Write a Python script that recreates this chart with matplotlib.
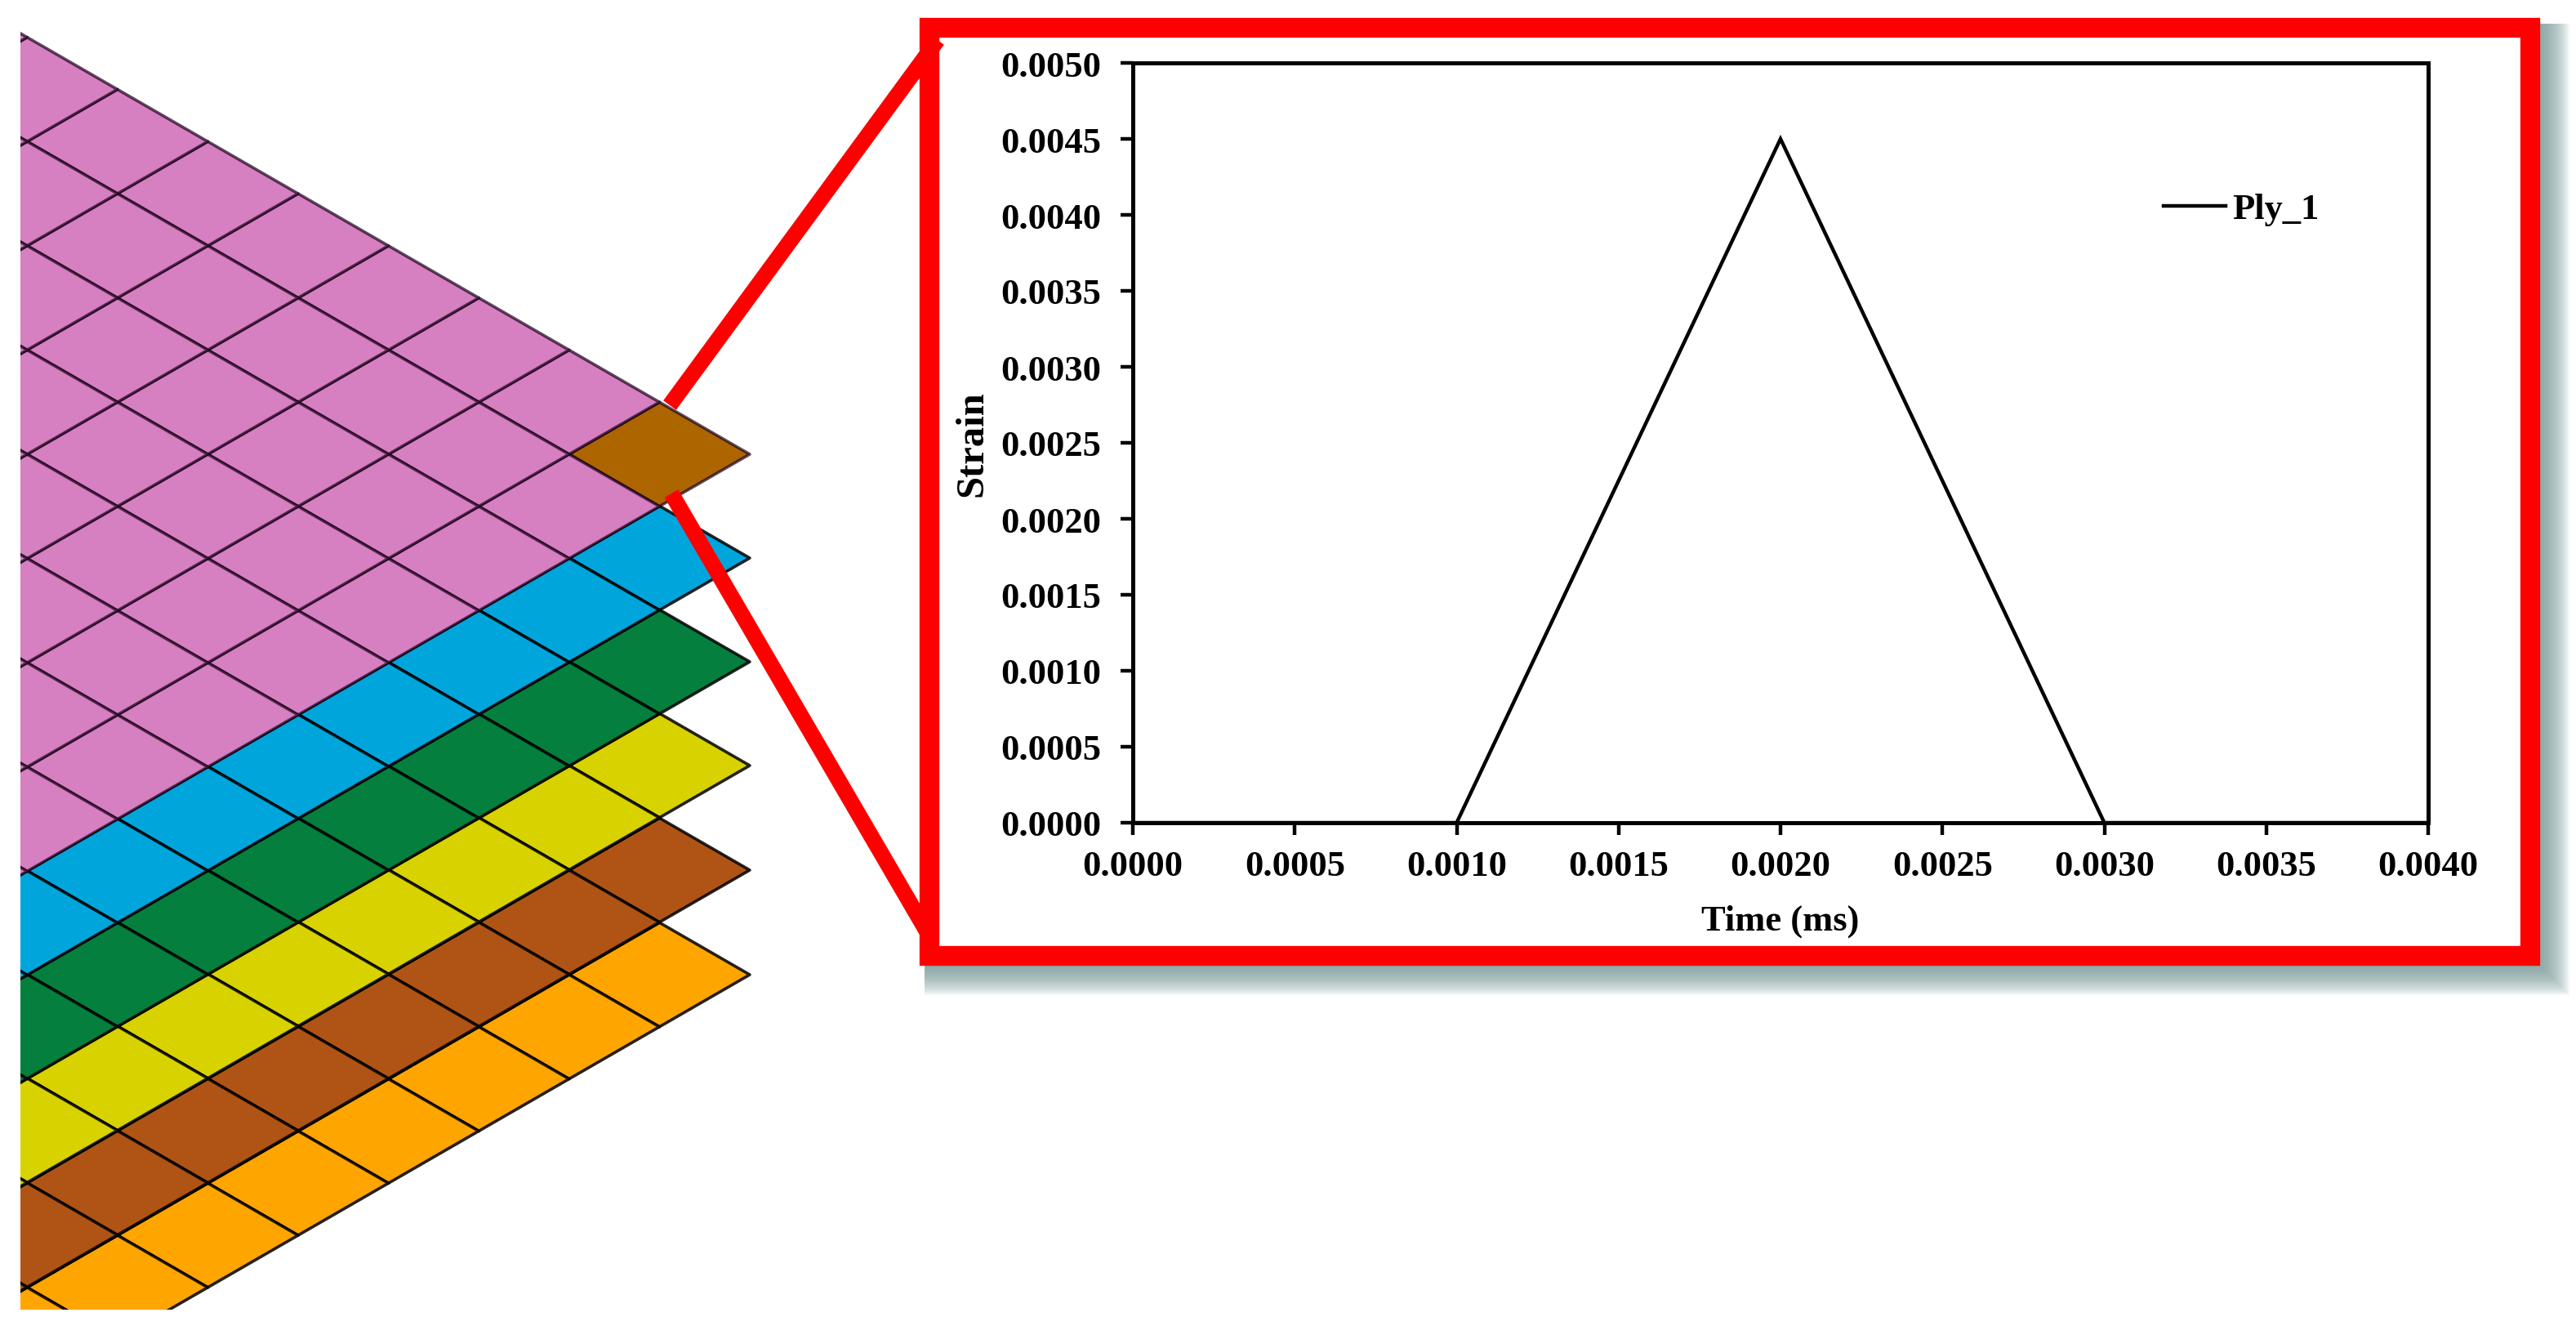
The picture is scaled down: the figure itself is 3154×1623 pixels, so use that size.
import matplotlib
matplotlib.use('Agg')

import matplotlib.pyplot as plt

from matplotlib.collections import PolyCollection
from matplotlib.patches import Rectangle


plt.rcParams['font.family'] = ['Liberation Serif', 'DejaVu Serif']
plt.rcParams['font.weight'] = 'bold'


# Data
#----------------------------------------------------------------------------------------------------
time_ms = [0.0000, 0.0010, 0.0020, 0.0030, 0.0040]
strain = [0.0000, 0.0000, 0.0045, 0.0000, 0.0000]

x_ticks = [0.0000, 0.0005, 0.0010, 0.0015, 0.0020, 0.0025, 0.0030, 0.0035, 0.0040]
y_ticks = [0.0000, 0.0005, 0.0010, 0.0015, 0.0020, 0.0025, 0.0030, 0.0035, 0.0040, 0.0045, 0.0050]

# plies from the top one down, right hand tip of each one in picture pixels
ply_colors = ['#D67FC1', '#00A5DC', '#047F3D', '#D8D200', '#AF5415', '#FFA500']
ply_tip_y = [557, 684, 811, 938, 1066, 1194]
selected_color = '#AD6500'

W, H = 3154, 1624
FONT = 32


#====================================================================================================
def ply_cells(tip_x, tip_y, dx=110.6, dy=63.8, n=11):

    cells = []

    for i in range(n):
        for j in range(n):
            right = (tip_x - dx*(i + j), tip_y + dy*(j - i))
            cells.append([right,
                          (right[0] - dx, right[1] - dy),
                          (right[0] - 2*dx, right[1]),
                          (right[0] - dx, right[1] + dy)])

    return cells


fig = plt.figure(figsize=(W/100, H/100), dpi=100, facecolor='white')


# Mesh and red frame, in picture pixels
#----------------------------------------------------------------------------------------------------
bg = fig.add_axes([0, 0, 1, 1])
bg.set_xlim(0, W)
bg.set_ylim(H, 0)
bg.axis('off')

clip = Rectangle((25, 0), W, 1604, transform=bg.transData)

for k in range(len(ply_colors) - 1, -1, -1):

    cells = ply_cells(918, ply_tip_y[k])
    colors = [ply_colors[k]]*len(cells)
    edge = (0.1, 0, 0.1, 0.7) if k == 0 else (0, 0, 0, 0.85)

    if k == 0:
        colors[0] = selected_color

    mesh = PolyCollection(cells, facecolors=colors, edgecolors=[edge], linewidths=2.6, zorder=2 + (len(ply_colors) - k)*0.01)
    bg.add_collection(mesh)
    mesh.set_clip_path(clip)

# soft shadow behind the frame
for s in range(36, 0, -2):
    bg.add_patch(Rectangle((1132, 30), 3110 - 1132 + s, 1183 - 30 + s, facecolor='#7C9A9A', edgecolor='none', alpha=0.085, zorder=3))

bg.add_patch(Rectangle((1138, 35), 3098 - 1138, 1171 - 35, facecolor='white', edgecolor='#FF0000', linewidth=17.5, joinstyle='miter', zorder=4))

bg.plot([820, 1148], [497, 50], color='#FF0000', lw=14, solid_capstyle='butt', zorder=5)
bg.plot([822, 1140], [605, 1150], color='#FF0000', lw=14, solid_capstyle='butt', zorder=5)


# Strain plot
#----------------------------------------------------------------------------------------------------
ax = fig.add_axes([1387/W, 1 - 1008/H, (2973 - 1387)/W, (1008 - 78)/H])
ax.patch.set_alpha(0)

ax.plot(time_ms, strain, color='black', lw=3.2, label='Ply_1', clip_on=False, solid_joinstyle='miter')

ax.set_xlim(0, 0.004)
ax.set_ylim(0, 0.005)

ax.set_xticks(x_ticks)
ax.set_xticklabels([f'{v:.4f}' for v in x_ticks])
ax.set_yticks(y_ticks)
ax.set_yticklabels([f'{v:.4f}' for v in y_ticks])

ax.tick_params(axis='both', direction='out', length=11, width=3.2, labelsize=FONT)
ax.tick_params(axis='x', pad=13)
ax.tick_params(axis='y', pad=17)

for spine in ax.spines.values():
    spine.set_linewidth(3.6)

ax.set_xlabel('Time (ms)', fontsize=FONT, fontweight='bold', labelpad=19)
ax.set_ylabel('Strain', fontsize=35, fontweight='bold', labelpad=9)

ax.legend(loc='center left', bbox_to_anchor=(0.796, 0.8075), frameon=False, fontsize=FONT, borderpad=0, borderaxespad=0, handlelength=1.69, handletextpad=0.2)


fig.savefig('out.png', dpi=100)
